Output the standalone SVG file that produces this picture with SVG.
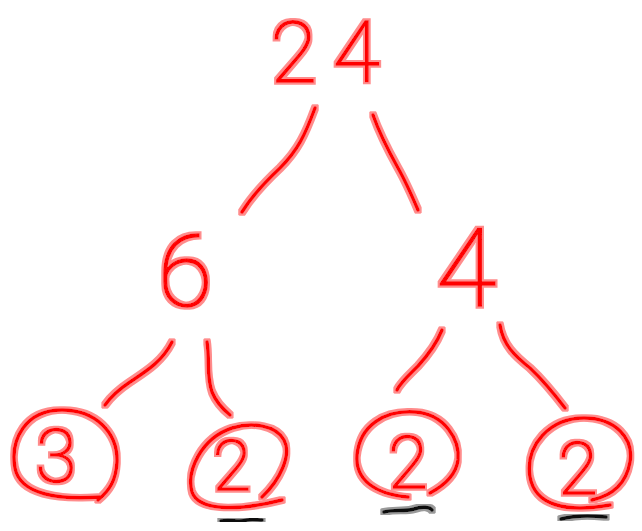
<svg xmlns="http://www.w3.org/2000/svg" width="642" height="531" viewBox="0 0 642 531">
<defs>
<filter id="halo" x="-20%" y="-20%" width="140%" height="140%">
<feMorphology in="SourceAlpha" operator="dilate" radius="2" result="d"/>
<feFlood flood-color="#ff8c8c"/>
<feComposite in2="d" operator="in" result="h"/>
<feMerge><feMergeNode in="h"/><feMergeNode in="SourceGraphic"/></feMerge>
</filter>
<filter id="haloK" x="-20%" y="-50%" width="140%" height="200%">
<feMorphology in="SourceAlpha" operator="dilate" radius="2" result="d"/>
<feFlood flood-color="#9a9a9a"/>
<feComposite in2="d" operator="in" result="h"/>
<feMerge><feMergeNode in="h"/><feMergeNode in="SourceGraphic"/></feMerge>
</filter>
</defs>
<style>
.s{fill:none;stroke:#ff0000;stroke-width:3.5;stroke-linecap:round;stroke-linejoin:round;filter:url(#halo)}
.k{fill:none;stroke:#111;stroke-width:3.5;stroke-linecap:round;filter:url(#haloK)}
.t{font-family:Roboto,"Lato","DejaVu Sans",sans-serif;font-weight:100;fill:#ff0000;stroke:#ff0000;stroke-width:1.5;text-anchor:middle;filter:url(#halo)}
</style>
<rect width="642" height="531" fill="#fff"/>
<g id="connectors">
<path class="s" d="M315,108 C305,135 298,150 280,168 C265,182 252,196 242,212"/>
<path class="s" d="M373,115 C380,135 388,150 398,168 C406,182 412,196 418,210"/>
<path class="s" d="M172,342 C162,362 145,372 130,382 C118,390 110,398 105,405"/>
<path class="s" d="M207,342 C210,360 206,375 212,392 C216,402 224,410 230,415"/>
<path class="s" d="M442,330 C436,345 428,355 418,366 C408,376 400,383 397,390"/>
<path class="s" d="M500,325 C503,345 515,356 530,368 C545,382 555,395 565,408"/>
</g>
<g id="n24"><text class="t" x="333" y="82" font-size="85" letter-spacing="16">24</text></g>
<g id="n6"><text class="t" x="185" y="306" font-size="100">6</text></g>
<g id="n4"><text class="t" x="466" y="306" font-size="110">4</text></g>
<g id="n3">
<path class="s" d="M100,497 C60,500 20,495 15,468 C10,440 25,410 62,410 C95,410 118,432 117,462 C116,480 110,490 98,500"/>
<text class="t" x="56" y="482" font-size="74">3</text>
</g>
<g id="n2a">
<path class="s" d="M262,497 C280,480 292,455 284,440 C276,425 252,422 232,428 C202,438 186,470 192,492 C198,510 235,512 282,500"/>
<text class="t" x="232" y="490" font-size="70">2</text>
<path class="k" d="M221,521 C232,519 238,523 247,520 C252,519 258,520 262,520"/>
</g>
<g id="n2b">
<path class="s" d="M408,497 C375,494 355,480 357,455 C360,425 385,410 415,412 C445,414 460,440 458,460 C456,475 445,485 430,493"/>
<text class="t" x="408" y="488" font-size="72">2</text>
<path class="k" d="M384,512 C395,509 403,512 414,509 C422,506 430,507 432,510"/>
</g>
<g id="n2c">
<path class="s" d="M592,500 C610,496 626,485 630,462 C634,438 615,418 584,418 C550,418 525,445 530,477 C535,505 565,513 610,505"/>
<text class="t" x="578" y="494" font-size="72">2</text>
<path class="k" d="M561,519 C572,516 585,515 606,517"/>
</g>
</svg>
